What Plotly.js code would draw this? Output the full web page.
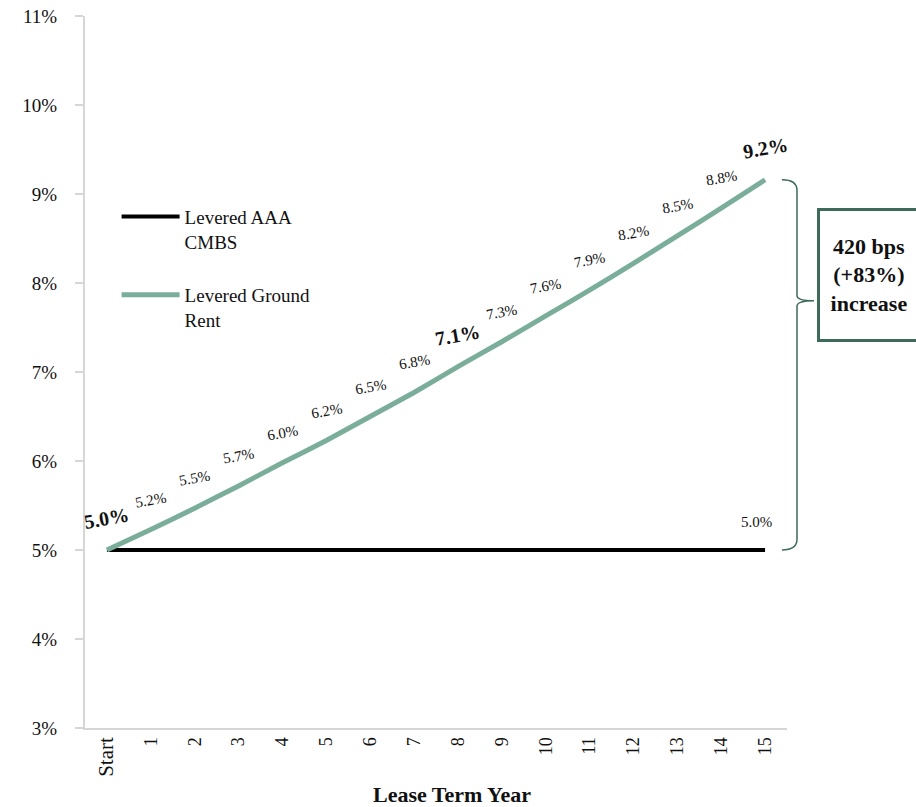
<!DOCTYPE html>
<html><head><meta charset="utf-8">
<script src="https://cdn.plot.ly/plotly-3.0.1.min.js"></script>
<style>html,body{margin:0;padding:0;background:#fff}#chart{width:916px;height:807px}</style>
</head><body><div id="chart"></div>
<script>
const years = ['Start','1','2','3','4','5','6','7','8','9','10','11','12','13','14','15'];
const cmbs = [5.0,5.0,5.0,5.0,5.0,5.0,5.0,5.0,5.0,5.0,5.0,5.0,5.0,5.0,5.0,5.0];
const groundRent = [5.00,5.23,5.47,5.72,5.98,6.23,6.50,6.77,7.06,7.34,7.63,7.92,8.22,8.53,8.84,9.16];
const boldIdx = [0, 8, 15];
const seriesNames = ['Levered AAA<br>CMBS', 'Levered Ground<br>Rent'];
const yTicks = [3,4,5,6,7,8,9,10,11];

const FONT = 'Liberation Serif, serif';
const GREEN = '#7aae9a';
const DARK = '#3e6b59';

const traces = [
  {x: years, y: cmbs, name: seriesNames[0], mode: 'lines', line: {color: '#000', width: 4}, legendgroup: 'a', hoverinfo: 'skip'},
  {x: years, y: groundRent, name: seriesNames[1], mode: 'lines', line: {color: GREEN, width: 5, shape: 'spline', smoothing: 0.5}, legendgroup: 'b', hoverinfo: 'skip'}
];

const annotations = groundRent.map((v, i) => {
  const bold = boldIdx.includes(i);
  return {
    x: years[i], y: v, xref: 'x', yref: 'y', showarrow: false,
    text: bold ? '<b>' + v.toFixed(1) + '%</b>' : v.toFixed(1) + '%',
    yshift: bold ? 32 : 30, textangle: -10,
    font: {family: FONT, size: bold ? 20 : 15, color: '#111'}
  };
});
// end label of CMBS line
annotations.push({x: years[years.length-1], y: cmbs[cmbs.length-1], xref: 'x', yref: 'y', showarrow: false,
  text: cmbs[cmbs.length-1].toFixed(1) + '%', xshift: -9, yshift: 28, font: {family: FONT, size: 15, color: '#111'}});
// box annotation
annotations.push({xref: 'paper', yref: 'y', x: 1.0427, y: 8.09, xanchor: 'left', yanchor: 'middle', showarrow: false,
  text: '<b>420 bps<br>(+83%)<br>increase</b>', align: 'center',
  font: {family: FONT, size: 22, color: '#111'},
  bordercolor: DARK, borderwidth: 3, borderpad: 3, bgcolor: '#fff', width: 92, height: 122});
// x axis title
annotations.push({xref: 'paper', yref: 'paper', x: 0.523, y: -0.094, showarrow: false, yanchor: 'middle',
  text: '<b>Lease Term Year</b>', font: {family: FONT, size: 22, color: '#111'}});

// curly brace (x in paper, y in data)
const bx0 = (782-85)/702, bx1 = (797-85)/702, bx2 = (814-85)/702;
const yTop = groundRent[groundRent.length-1], yBot = cmbs[cmbs.length-1], yTip = 7.8;
const d = 0.06;
const brace = 'M' + bx0 + ',' + yTop +
  ' Q' + bx1 + ',' + yTop + ' ' + bx1 + ',' + (yTop-d*2) +
  ' L' + bx1 + ',' + (yTip+d) +
  ' Q' + bx1 + ',' + yTip + ' ' + bx2 + ',' + yTip +
  ' Q' + bx1 + ',' + yTip + ' ' + bx1 + ',' + (yTip-d) +
  ' L' + bx1 + ',' + (yBot+d*2) +
  ' Q' + bx1 + ',' + yBot + ' ' + bx0 + ',' + yBot;

const tickText = years.map(t => t === 'Start' ? '<span style="font-size:21px">Start</span>' : t);

const layout = {
  width: 916, height: 807,
  margin: {l: 85, r: 129, t: 16, b: 79},
  paper_bgcolor: '#fff', plot_bgcolor: '#fff',
  font: {family: FONT, color: '#111'},
  showlegend: true,
  legend: {x: 0.045, y: 0.745, xanchor: 'left', yanchor: 'top', bgcolor: 'rgba(0,0,0,0)',
    font: {family: FONT, size: 19, color: '#111'}, valign: 'top', traceorder: 'grouped', tracegroupgap: 26, itemwidth: 58},
  xaxis: {type: 'category', range: [-0.5, 15.5], showgrid: false, zeroline: false,
    tickvals: years, ticktext: tickText,
    showline: true, linecolor: '#d6d6d6', linewidth: 2, ticks: '', tickangle: -90,
    tickfont: {family: FONT, size: 18, color: '#111'}, fixedrange: true},
  yaxis: {range: [3, 11], tickvals: yTicks, ticktext: yTicks.map(v => v + '%'), showgrid: false, zeroline: false,
    showline: true, linecolor: '#d6d6d6', linewidth: 2, ticks: 'outside', ticklen: 8, tickcolor: '#d6d6d6', tickwidth: 2,
    tickfont: {family: FONT, size: 19, color: '#111'}, ticklabelstandoff: 14, fixedrange: true},
  shapes: [{type: 'path', xref: 'paper', yref: 'y', path: brace, line: {color: DARK, width: 1.5}}],
  annotations: annotations
};
Plotly.newPlot('chart', traces, layout, {displayModeBar: false, staticPlot: true});
</script></body></html>
